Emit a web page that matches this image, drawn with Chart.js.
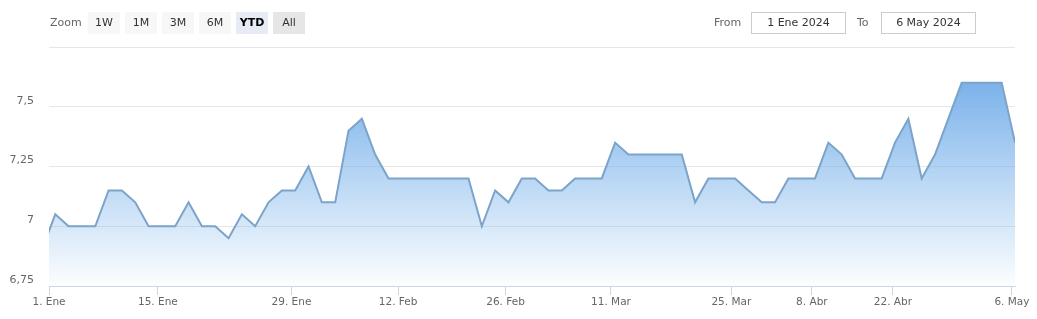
<!DOCTYPE html>
<html>
<head>
<meta charset="utf-8">
<script src="https://cdn.jsdelivr.net/npm/chart.js@4.4.1/dist/chart.umd.min.js"></script>
<style>
  html, body { margin: 0; padding: 0; background: #fff; }
  #wrap { position: relative; width: 1037px; height: 319px; font-family: "DejaVu Sans", Verdana, sans-serif; font-size: 11px; }
  #chart { position: absolute; left: 0; top: 0; }
  .lbl { position: absolute; top: 16px; color: #666; line-height: 14px; }
  .btn { position: absolute; top: 12px; width: 32px; height: 22px; line-height: 22px; text-align: center; background: #f7f7f7; color: #333; }
  .btn.sel { background: #e6ebf5; color: #000; font-weight: bold; }
  .btn.all { background: #e6e6e6; }
  .box { position: absolute; top: 12px; width: 93px; height: 20px; line-height: 20px; border: 1px solid #cccccc; text-align: center; color: #333; }
</style>
</head>
<body>
<div id="wrap">
  <canvas id="chart" width="1037" height="319"></canvas>
  <div class="lbl" style="left:50px">Zoom</div>
  <div class="btn" style="left:88px">1W</div>
  <div class="btn" style="left:125px">1M</div>
  <div class="btn" style="left:162px">3M</div>
  <div class="btn" style="left:199px">6M</div>
  <div class="btn sel" style="left:236px">YTD</div>
  <div class="btn all" style="left:273px">All</div>
  <div class="lbl" style="left:714px">From</div>
  <div class="box" style="left:751px">1 Ene 2024</div>
  <div class="lbl" style="left:857px">To</div>
  <div class="box" style="left:881px">6 May 2024</div>
</div>
<script>
// Closing values, one per session (evenly spaced like the ordinal axis); first one sits left of 1 Ene
const prices = [
  6.90, 7.05, 7.00, 7.00, 7.00, 7.15, 7.15, 7.10, 7.00, 7.00,
  7.00, 7.10, 7.00, 7.00, 6.95, 7.05, 7.00, 7.10, 7.15, 7.15,
  7.25, 7.10, 7.10, 7.40, 7.45, 7.30, 7.20, 7.20, 7.20, 7.20,
  7.20, 7.20, 7.20, 7.00, 7.15, 7.10, 7.20, 7.20, 7.15, 7.15,
  7.20, 7.20, 7.20, 7.35, 7.30, 7.30, 7.30, 7.30, 7.30, 7.10,
  7.20, 7.20, 7.20, 7.15, 7.10, 7.10, 7.20, 7.20, 7.20, 7.35,
  7.30, 7.20, 7.20, 7.20, 7.35, 7.45, 7.20, 7.30, 7.45, 7.60,
  7.60, 7.60, 7.60, 7.35
];
const firstIndex = -1; // index of prices[0]

// date labels and where they fall on the session index
const tickLabels = ['1. Ene', '15. Ene', '29. Ene', '12. Feb', '26. Feb', '11. Mar', '25. Mar', '8. Abr', '22. Abr', '6. May'];
const tickIndex = [-0.47, 7.7, 17.72, 25.72, 33.78, 41.69, 50.72, 56.76, 62.84, 71.77];

const yTicks = [6.75, 7, 7.25, 7.5, 7.75];

const points = prices.map((v, i) => ({ x: i + firstIndex, y: v }));

function fillGradient(context) {
  const chart = context.chart;
  const area = chart.chartArea;
  if (!area) return 'rgba(124,181,236,0.5)';
  const yScale = chart.scales.y;
  const top = yScale.getPixelForValue(Math.max(...prices));
  const g = chart.ctx.createLinearGradient(0, top, 0, area.bottom);
  g.addColorStop(0, 'rgba(124,178,234,1)');
  g.addColorStop(1, 'rgba(124,181,236,0.02)');
  return g;
}

new Chart(document.getElementById('chart').getContext('2d'), {
  type: 'line',
  data: {
    datasets: [{
      data: points,
      borderColor: '#7ca3c9',
      borderWidth: 2,
      pointRadius: 0,
      tension: 0,
      fill: 'start',
      backgroundColor: fillGradient
    }]
  },
  options: {
    responsive: false,
    animation: false,
    layout: { padding: { left: 0, right: 22, top: 47, bottom: 0 } },
    plugins: { legend: { display: false }, tooltip: { enabled: false } },
    scales: {
      x: {
        type: 'linear',
        min: tickIndex[0],
        max: prices.length - 1 + firstIndex,
        afterBuildTicks: scale => { scale.ticks = tickIndex.map(v => ({ value: v })); },
        afterFit: scale => { scale.height = 33; },
        grid: { drawOnChartArea: false, tickLength: 9, color: '#ccd6eb' },
        border: { color: '#ccd6eb' },
        ticks: {
          autoSkip: false,
          maxRotation: 0,
          padding: 1,
          color: '#666',
          font: { family: 'DejaVu Sans', size: 10.5 },
          callback: (v, i) => tickLabels[i]
        }
      },
      y: {
        min: yTicks[0],
        max: yTicks[yTicks.length - 1],
        afterBuildTicks: scale => { scale.ticks = yTicks.map(v => ({ value: v })); },
        afterFit: scale => { scale.width = 49; },
        grid: { color: '#e6e6e6', drawTicks: false },
        border: { display: false },
        ticks: {
          padding: 15,
          labelOffset: -6,
          color: '#666',
          font: { family: 'DejaVu Sans', size: 11 },
          callback: v => v === 7.75 ? '' : String(v).replace('.', ',')
        }
      }
    }
  }
});
</script>
</body>
</html>
